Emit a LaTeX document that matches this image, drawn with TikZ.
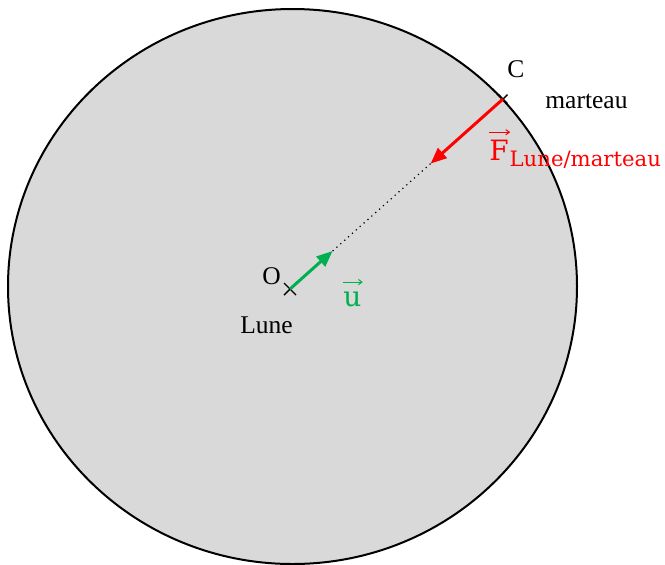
\documentclass[tikz,border=0pt]{standalone}
\usepackage{fontspec}
\setmainfont{Liberation Serif}
\newfontfamily\grandeurfont{DejaVu Serif}
\usetikzlibrary{arrows.meta, calc}
\definecolor{grislune}{RGB}{217,217,217}
\definecolor{vertu}{RGB}{0,176,80}
\tikzset{
  lune/.style      = {draw=black, line width=1pt, fill=grislune},
  croix/.style     = {black, line width=0.7pt},
  vecteur/.style   = {-{Triangle[length=8pt, width=6.5pt]}, line width=1.5pt},
  flechevec/.style = {-{Straight Barb[length=1.8pt, width=2.6pt]}, line width=0.5pt},
  guide/.style     = {black, dotted, line width=0.6pt},
  etiquette/.style = {font=\fontsize{12.75}{15}\selectfont, inner sep=0pt},
  grandeur/.style  = {font=\grandeurfont\fontsize{14}{17}\selectfont, inner sep=0pt},
  indice/.style    = {font=\grandeurfont\fontsize{10.6}{13}\selectfont, inner sep=0pt}
}

\begin{document}
\begin{tikzpicture}[x=0.5pt, y=-0.5pt]
  \useasboundingbox (0,0) rectangle (665,564);
  \coordinate (O) at (290,289);
  \coordinate (C) at (503,99);
  \coordinate (U) at ($(O)!0.2!(C)$);
  \coordinate (P) at ($(O)!0.66!(C)$);

  % la Lune
  \draw[lune] (292.5,286.5) ellipse [x radius=284.5, y radius=277.5];

  % points O et C
  \draw[croix] (O) ++(-6,-6) -- ++(12,12) ++(0,-12) -- ++(-12,12);
  \draw[croix] (C) ++(-4.5,-4.5) -- ++(9,9) ++(0,-9) -- ++(-9,9);

  % vecteurs
  \draw[guide] (U) -- (P);
  \draw[vecteur, vertu] (O) -- (U);
  \draw[vecteur, red] (C) -- (P);

  \node[etiquette, anchor=base west] (labC) at (507,77) {C};
  \node[etiquette, anchor=base west] (labmarteau) at (545,108) {marteau};
  \node[etiquette, anchor=base west] (labO) at (262,284) {O};
  \node[etiquette, anchor=base west] (labLune) at (240,333) {Lune};

  % F Lune/marteau
  \node[grandeur, text=red, anchor=base west] (labF) at (489,160) {F};
  \node[indice, text=red, anchor=base west] (labFind) at ($(labF.base east)+(0,6.7)$) {Lune/marteau};
  \draw[flechevec, red] ($(labF.north west)+(0,-7)$) -- ($(labF.north east)+(1,-7)$);

  % u
  \node[grandeur, text=vertu, anchor=base west] (labu) at (343,306) {u};
  \draw[flechevec, vertu] ($(labu.north west)+(0,-9)$) -- ($(labu.north east)+(1,-9)$);
\end{tikzpicture}
\end{document}
